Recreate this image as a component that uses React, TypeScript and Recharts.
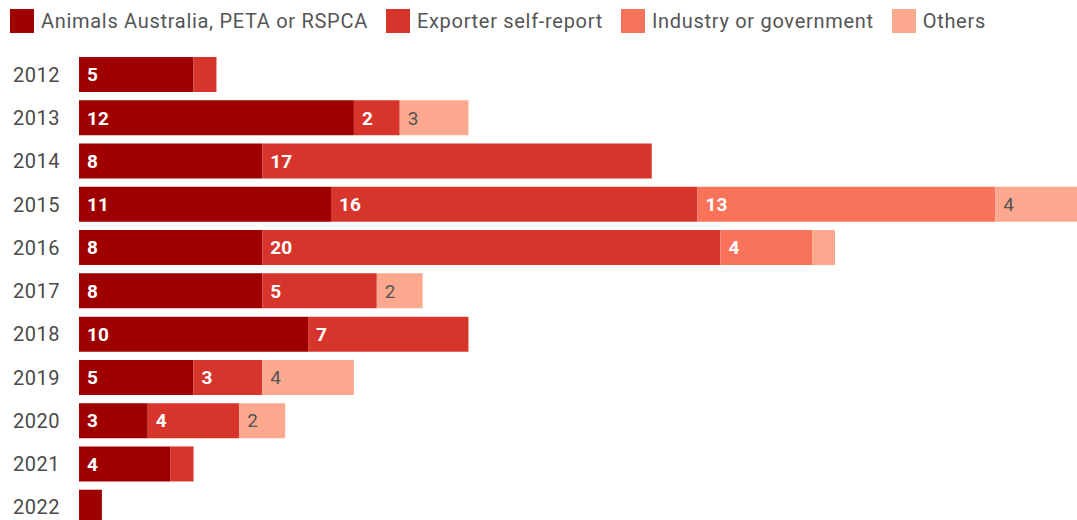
import { BarChart, Bar, XAxis, YAxis, LabelList } from "recharts";

// Reported incidents by year and source
const years = ["2012", "2013", "2014", "2015", "2016", "2017", "2018", "2019", "2020", "2021", "2022"];
const animalsAustralia = [5, 12, 8, 11, 8, 8, 10, 5, 3, 4, 1];
const exporterSelf = [1, 2, 17, 16, 20, 5, 7, 3, 4, 1, 0];
const industryGov = [0, 0, 0, 13, 4, 0, 0, 0, 0, 0, 0];
const others = [0, 3, 0, 4, 1, 2, 0, 4, 2, 0, 0];

const seriesNames = ["Animals Australia, PETA or RSPCA", "Exporter self-report", "Industry or government", "Others"];
const seriesColors = ["#9e0000", "#d7352b", "#f9735a", "#fba88e"];

const data = years.map((year, i) => ({
	year,
	animals: animalsAustralia[i],
	exporter: exporterSelf[i],
	industry: industryGov[i],
	others: others[i],
}));

const FONT = "Roboto, 'Noto Sans', sans-serif";

// narrow segments (a single case) carry no number
const labelFmt = (v: any) => (typeof v === "number" && v > 1 ? v : "");

const keys = ["animals", "exporter", "industry", "others"];

export default function App() {
	return (
		<div style={{ position: "absolute", left: 0, top: 0, width: 1077, height: 520, overflow: "hidden", background: "#fff", fontFamily: FONT }}>
			<div style={{ position: "absolute", left: 10, top: 9, display: "flex", alignItems: "center" }}>
				{seriesNames.map((name, i) => (
					<div key={name} style={{ display: "flex", alignItems: "center", marginRight: 18 }}>
						<span style={{ width: 24, height: 24, background: seriesColors[i], display: "inline-block", marginRight: 7 }} />
						<span style={{ fontSize: 20, color: "#555", whiteSpace: "nowrap", letterSpacing: 0.7 }}>{name}</span>
					</div>
				))}
			</div>
			<BarChart width={1100} height={540} data={data} layout="vertical" margin={{ top: 53, right: 13, bottom: 11, left: 0 }} barSize={35}>
				<XAxis type="number" domain={[0, 44]} hide />
				<YAxis
					type="category"
					dataKey="year"
					width={79}
					axisLine={false}
					tickLine={false}
					tickSize={0}
					tickMargin={19}
					tick={{ fill: "#4a4a4a", fontSize: 20, fontFamily: FONT, letterSpacing: 0.5 }}
				/>
				{keys.map((k, i) => (
					<Bar key={k} dataKey={k} stackId="a" fill={seriesColors[i]} isAnimationActive={false}>
						<LabelList
							dataKey={k}
							position="insideLeft"
							offset={8}
							formatter={labelFmt as any}
							fill={i < 3 ? "#fff" : "#555"}
							style={{ fontSize: 19, fontWeight: i < 3 ? 700 : 400, fontFamily: FONT }}
						/>
					</Bar>
				))}
			</BarChart>
		</div>
	);
}
